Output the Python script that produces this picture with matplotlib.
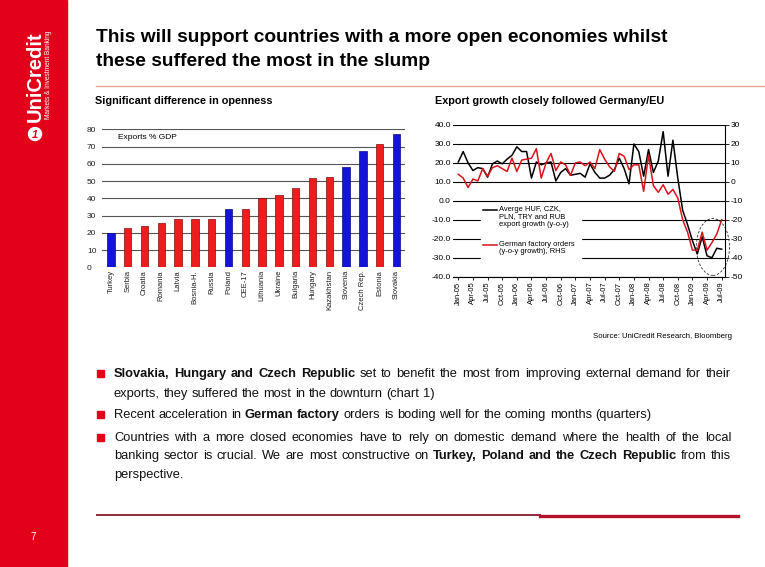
import matplotlib

matplotlib.use("Agg")
import matplotlib.pyplot as plt
import numpy as np
from matplotlib.patches import Circle, Ellipse, Rectangle

plt.rcParams["font.family"] = ["Liberation Sans", "DejaVu Sans"]
plt.rcParams["axes.unicode_minus"] = False

# --- data: openness (exports % GDP) ---
countries = ["Turkey", "Serbia", "Croatia", "Romania", "Latvia", "Bosnia-H.", "Russia",
             "Poland", "CEE-17", "Lithuania", "Ukraine", "Bulgaria", "Hungary",
             "Kazakhstan", "Slovenia", "Czech Rep.", "Estonia", "Slovakia"]
exports_gdp = [20, 23, 24, 25.5, 28, 28, 28, 34, 34, 40, 42, 46, 52, 52.5, 58, 67.5, 71.5, 77.5]
highlighted = [True, False, False, False, False, False, False, True, False, False, False,
               False, False, False, True, True, False, True]

# --- data: monthly y-o-y growth, Jan-05 .. Jul-09 ---
export_growth = [20.5, 26, 20, 16, 17.5, 17, 12.5, 19.5, 21, 19.5, 22, 24, 28.5, 26, 26,
                 12, 20.5, 19, 20, 20.5, 10.5, 15, 17, 13.5, 14, 14.5, 12.5, 19.5, 15, 12,
                 12, 13.5, 16.5, 22.5, 17, 9, 30, 26, 13, 27, 15, 21, 36.5, 13, 32, 12,
                 -5, -12.5, -21, -28, -19, -29, -30, -25, -25.5]
factory_orders = [4, 2, -3, 1.5, 0.5, 7, 3, 7.5, 8.5, 7, 5.5, 12.5, 5.5, 11.5, 12, 12.5,
                  17.5, 2, 10, 15, 6, 10.5, 9, 3.5, 10, 10.5, 8.5, 10.5, 7, 17, 12, 8, 5.5,
                  15, 13.5, 6.5, 9, 9, -5, 14, -2, -5.5, -1.5, -6.5, -4, -8.5, -20, -26.5,
                  -36, -36, -26.5, -36, -32, -27.5, -20]
month_ticks = ["Jan-05", "Apr-05", "Jul-05", "Oct-05", "Jan-06", "Apr-06", "Jul-06", "Oct-06",
               "Jan-07", "Apr-07", "Jul-07", "Oct-07", "Jan-08", "Apr-08", "Jul-08", "Oct-08",
               "Jan-09", "Apr-09", "Jul-09"]
series_labels = ["Averge HUF, CZK,\nPLN, TRY and RUB\nexport growth (y-o-y)",
                 "German factory orders\n(y-o-y growth), RHS"]

RED = "#E2001A"
W, H = 765, 567

fig = plt.figure(figsize=(7.65, 5.67), dpi=100)
page = fig.add_axes([0, 0, 1, 1])
page.set_xlim(0, W)
page.set_ylim(H, 0)
page.axis("off")


def rect(l, t, r, b):
    return [l / W, 1 - b / H, (r - l) / W, (b - t) / H]


# sidebar and logo
page.add_patch(Rectangle((0, 0), 67, H, color=RED, zorder=0))
page.text(35, 77, "UniCredit", rotation=90, color="white", fontsize=14.5, fontweight="bold",
          ha="center", va="center")
page.text(48.5, 75, "Markets & Investment Banking", rotation=90, color="white", fontsize=4.7,
          ha="center", va="center")
page.add_patch(Circle((35, 134), 6.5, color="white"))
page.text(35, 134.5, "1", color=RED, fontsize=8, fontweight="bold", style="italic",
          ha="center", va="center")
page.text(33, 537, "7", color="white", fontsize=7, ha="center", va="center")

# title block
page.text(96, 38, "This will support countries with a more open economies whilst",
          fontsize=13.8, fontweight="bold", va="center")
page.text(96, 62, "these suffered the most in the slump", fontsize=13.8, fontweight="bold",
          va="center")
page.plot([96, W], [86, 86], color="#EBA493", lw=1)
page.text(95, 101, "Significant difference in openness", fontsize=7.8, fontweight="bold",
          va="center")
page.text(435, 101, "Export growth closely followed Germany/EU", fontsize=7.8,
          fontweight="bold", va="center")

# --- bar chart ---
axb = fig.add_axes(rect(101.7, 129.3, 405, 267.3))
x = np.arange(len(countries))
bar_colors = ["#1414D8" if h else "#EE1C1C" for h in highlighted]
edge_colors = ["#0A0A80" if h else "#8A0A0A" for h in highlighted]
axb.bar(x, exports_gdp, width=0.44, color=bar_colors, edgecolor=edge_colors, linewidth=0.5,
        zorder=3)
axb.set_xlim(-0.55, 17.5)
axb.set_ylim(0, 80)
axb.set_yticks(range(0, 81, 10))
axb.yaxis.grid(True, color="#555555", lw=0.8)
axb.set_axisbelow(True)
for s in axb.spines.values():
    s.set_visible(False)
axb.tick_params(axis="y", length=0, labelsize=6, pad=10.6, labelcolor="#222222")
for lab in axb.get_yticklabels():
    lab.set_ha("left")
axb.set_xticks(x)
axb.set_xticklabels(countries, rotation=90, fontsize=5.5, color="#222222")
axb.tick_params(axis="x", length=0, pad=2)
axb.text(0.054, 0.937, "Exports % GDP", transform=axb.transAxes, fontsize=6, va="center")

# --- line chart ---
axl = fig.add_axes(rect(453, 125, 725, 276.7))
months = np.arange(len(export_growth))
axl.plot(months, export_growth, color="black", lw=1.1)
axr = axl.twinx()
axr.plot(months, factory_orders, color="#D7141A", lw=1.1)
axl.set_xlim(-1.09, 54.68)
axl.set_ylim(-40, 40)
axr.set_ylim(-50, 30)
axl.set_yticks(range(-40, 41, 10))
axl.set_yticklabels([f"{v:.1f}" for v in range(-40, 41, 10)])
axr.set_yticks(range(-50, 31, 10))
axl.yaxis.grid(True, color="black", lw=0.8)
axl.set_xticks(np.arange(0, len(export_growth), 3))
axl.set_xticklabels(month_ticks, rotation=90, fontsize=5.5)
for s in ("top", "left", "right"):
    axl.spines[s].set_visible(False)
for s in ("top", "left", "bottom"):
    axr.spines[s].set_visible(False)
axl.spines["bottom"].set_linewidth(0.8)
axr.spines["right"].set_linewidth(0.8)
axl.tick_params(axis="y", length=0, labelsize=6, pad=1.5)
axl.tick_params(axis="x", length=2, width=0.6, pad=1.5)
axr.tick_params(axis="y", length=3, width=0.6, labelsize=6, pad=1)

# legend block (handle on the first text line, as in the source slide)
pt = page.transData
axr.add_patch(Rectangle((481, 204), 100, 55, color="white", transform=pt, clip_on=False,
                        zorder=3))
for ytop, col, lab in ((210, "black", series_labels[0]), (245, "#D7141A", series_labels[1])):
    axr.plot([483, 497], [ytop, ytop], color=col, lw=1.1, transform=pt, clip_on=False,
             zorder=4)
    axr.text(499, ytop - 4, lab, fontsize=5.4, va="top", linespacing=1.05, transform=pt,
             clip_on=False, zorder=4)

axl.add_patch(Ellipse((52.2, -24.3), 6.8, 30, fill=False, ls=(0, (3, 2)), lw=0.6,
                      color="#333333", clip_on=False))

page.text(732, 336, "Source: UniCredit Research, Bloomberg", ha="right", va="center",
          fontsize=5.6)

# --- bullet text ---
renderer = fig.canvas.get_renderer()
FS = 9.3
bullet_lines = [
    (377, [("Slovakia, Hungary and Czech Republic", True),
           ("set to benefit the most from improving external demand for their", False)], True),
    (397, [("exports, they suffered the most in the downturn (chart 1)", False)], False),
    (418, [("Recent acceleration in", False), ("German factory", True),
           ("orders is boding well for the coming months (quarters)", False)], False),
    (441, [("Countries with a more closed economies have to rely on domestic demand where "
            "the health of the local", False)], True),
    (459, [("banking sector is crucial. We are most constructive on", False),
           ("Turkey, Poland and the Czech Republic", True), ("from this", False)], True),
    (478, [("perspective.", False)], False),
]
probe = [page.text(0, 0, s, fontsize=FS) for s in ("a a", "aa")]
space = probe[0].get_window_extent(renderer).width - probe[1].get_window_extent(renderer).width
for t in probe:
    t.remove()
x0, x1 = 114, 731
for y, runs, justify in bullet_lines:
    words = [(w, b) for txt, b in runs for w in txt.split()]
    arts = [page.text(x0, y, w, fontsize=FS, fontweight="bold" if b else "normal",
                      va="baseline", color="#111111") for w, b in words]
    widths = [a.get_window_extent(renderer).width for a in arts]
    gap = (x1 - x0 - sum(widths)) / (len(words) - 1) if justify else space
    xx = x0
    for a, w in zip(arts, widths):
        a.set_x(xx)
        xx += w + gap
for yb in (373, 414, 437):
    page.add_patch(Rectangle((97, yb - 3.5), 7, 7, color=RED))

# bottom rule
page.plot([97, 540], [515, 515], color="#8C2A3C", lw=1.4)
page.plot([540, 738], [515.5, 515.5], color="#B3122A", lw=2.4)

fig.savefig("out.png", dpi=100)
